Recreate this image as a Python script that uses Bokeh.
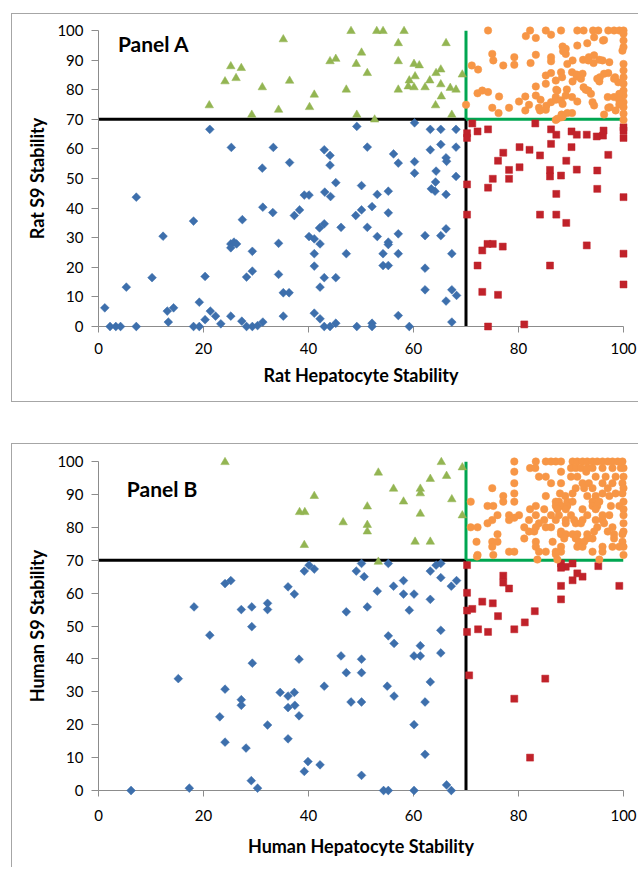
import math
from bokeh.plotting import figure
from bokeh.models import Range1d, FixedTicker, Label
from bokeh.layouts import column
from bokeh.embed import file_html
from bokeh.resources import INLINE

# ---------------- data ----------------
X_TICKS = [0, 20, 40, 60, 80, 100]
Y_TICKS = [0, 10, 20, 30, 40, 50, 60, 70, 80, 90, 100]
AXIS_MIN = 0
AXIS_MAX = 100
THRESHOLD = 70

A_TITLE = "Panel A"
A_XLABEL = "Rat Hepatocyte Stability"
A_YLABEL = "Rat S9 Stability"
B_TITLE = "Panel B"
B_XLABEL = "Human Hepatocyte Stability"
B_YLABEL = "Human S9 Stability"

# Panel A: low hepatocyte / low S9 (blue diamonds)
A_BLUE = [
    (21.2, 66.6), (25.3, 60.5), (31.2, 53.5), (33.3, 60.5), (36.4, 55.4), (7.2, 43.7),
    (39.2, 44.4), (40.1, 44.4), (43.0, 59.7), (49.2, 67.6), (60.2, 68.8), (63.2, 66.6),
    (65.2, 66.6), (68.1, 66.6), (51.2, 60.6), (44.1, 57.8), (44.1, 54.5), (56.2, 58.3),
    (57.1, 55.2), (63.2, 59.7), (65.2, 61.5), (68.1, 60.6), (66.2, 57.0), (66.3, 55.8),
    (60.2, 55.7), (60.2, 51.8), (64.3, 52.5), (68.1, 50.7), (45.2, 48.6), (50.1, 47.6),
    (64.2, 48.8), (63.4, 46.5), (64.1, 45.7), (43.1, 45.4), (44.2, 43.9), (53.1, 44.6),
    (55.2, 45.7), (66.2, 44.6), (49.0, 37.5), (50.1, 39.4), (52.1, 40.5),
    (55.2, 38.4), (42.1, 33.3), (43.0, 34.7), (46.2, 33.5), (51.2, 33.5), (40.1, 30.4),
    (41.1, 29.6), (42.2, 27.9), (53.1, 30.4), (55.2, 28.5), (55.2, 27.7), (57.1, 31.3),
    (62.2, 30.7), (65.2, 30.7), (66.2, 33.0), (41.1, 24.6), (47.2, 24.6), (54.2, 24.6),
    (57.1, 24.6), (67.3, 24.6), (41.1, 20.4), (54.2, 20.6), (55.2, 20.6), (62.2, 19.7),
    (43.0, 16.5), (45.2, 16.5), (42.2, 13.3), (62.2, 12.4), (67.3, 12.4), (68.2, 10.5),
    (66.2, 8.6), (41.1, 4.5), (42.2, 2.6), (57.1, 3.7), (43.0, 0.0), (44.1, 0.0),
    (45.2, 1.1), (49.2, 0.0), (52.1, 1.1), (52.1, 0.0), (59.2, 0.0), (67.3, 1.5),
    (18.1, 35.6), (12.3, 30.5), (27.4, 36.1), (31.3, 40.3), (33.2, 38.5), (37.3, 37.5),
    (38.3, 39.4), (25.2, 27.9), (25.8, 28.5), (26.3, 27.9), (25.2, 26.6), (29.3, 25.4),
    (34.3, 28.1), (29.3, 18.7), (28.2, 16.7), (34.3, 17.6), (35.2, 11.4), (36.3, 11.4),
    (35.2, 3.5), (20.3, 16.9), (10.2, 16.5), (5.3, 13.3), (1.2, 6.3), (13.1, 5.2),
    (14.3, 6.3), (13.3, 1.5), (19.2, 8.2), (21.3, 5.2), (22.3, 3.5), (20.3, 2.3),
    (23.3, 0.9), (25.2, 3.5), (27.3, 1.8), (28.2, 0.0), (29.3, 0.0), (30.3, 0.3),
    (31.3, 1.5), (18.1, 0.0), (19.2, 0.0), (2.2, 0.0), (3.3, 0.0), (4.2, 0.0), (7.2, 0.0),
]
# Panel A: high hepatocyte / low S9 (red squares)
A_RED = [
    (71.2, 68.6), (70.2, 65.3), (70.2, 63.7), (72.2, 65.9), (74.2, 66.6), (83.2, 68.6),
    (86.2, 66.6), (87.2, 64.8), (90.1, 65.9), (91.1, 64.8), (93.0, 64.8), (94.9, 64.2),
    (96.1, 64.5), (96.2, 66.2), (100.0, 67.3), (100.0, 66.2), (100.0, 63.7), (86.2, 61.7),
    (80.2, 60.6), (82.1, 59.7), (77.1, 58.7), (84.1, 57.8), (90.1, 60.6), (97.1, 58.0),
    (76.1, 56.0), (89.1, 56.0), (80.2, 53.8), (78.2, 52.9), (91.1, 53.0), (86.0, 52.9),
    (86.0, 50.7), (88.1, 51.0), (95.0, 52.7), (75.1, 49.9), (78.2, 49.9), (70.2, 48.0),
    (74.2, 46.9), (87.2, 44.8), (100.0, 43.7), (95.0, 46.5), (70.2, 37.8), (84.1, 37.8),
    (87.2, 37.8), (89.1, 35.0), (74.1, 27.9), (75.1, 27.9), (73.1, 25.7), (77.0, 27.0),
    (93.0, 27.4), (100.0, 24.6), (72.2, 20.6), (86.0, 20.6), (100.0, 14.2), (73.1, 11.7),
    (76.1, 10.7), (74.2, 0.0), (81.1, 0.7),
]
# Panel A: low hepatocyte / high S9 (green triangles)
A_GREEN = [
    (21.1, 74.7), (24.1, 82.8), (25.2, 87.9), (26.2, 83.9), (27.2, 87.3), (29.2, 71.5),
    (31.2, 80.8), (34.3, 73.2), (35.2, 97.0), (36.4, 83.0), (40.2, 74.1), (41.1, 78.3),
    (48.1, 99.8), (53.0, 99.8), (54.2, 99.8), (58.2, 99.8), (57.1, 95.7), (66.2, 95.7),
    (50.1, 92.5), (44.1, 89.6), (45.2, 90.4), (49.1, 88.7), (51.2, 85.6), (57.1, 89.6),
    (60.1, 88.7), (61.1, 88.2), (65.2, 86.8), (64.3, 85.6), (60.3, 84.5), (69.3, 85.1),
    (59.2, 83.1), (59.0, 81.1), (60.1, 80.8), (63.1, 83.1), (65.2, 81.8), (62.2, 80.8),
    (67.0, 80.6), (68.1, 80.0), (47.2, 80.0), (57.1, 80.0), (65.3, 77.7), (64.2, 74.7),
    (49.2, 71.5), (52.6, 69.9), (67.3, 71.5),
]
# Panel A: high hepatocyte / high S9 (orange circles)
A_ORANGE = [
    (74.2, 100.0), (82.2, 100.0), (85.2, 100.0), (88.1, 100.0), (91.2, 100.0), (92.4, 100.0),
    (94.2, 100.0), (95.2, 100.0), (97.1, 100.0), (98.2, 100.0), (99.2, 100.0), (100.0, 100.0),
    (86.2, 98.6), (81.4, 98.1), (83.3, 97.5), (94.4, 97.7), (96.1, 96.6), (93.1, 95.7),
    (91.2, 94.9), (88.4, 94.6), (89.0, 93.8), (88.5, 93.0), (89.0, 92.1), (99.8, 93.2),
    (75.0, 92.1), (75.2, 89.9), (79.2, 91.0), (79.2, 88.4), (83.3, 91.8), (86.2, 91.0),
    (86.2, 89.6), (90.3, 89.9), (92.3, 90.1), (93.4, 91.0), (94.4, 91.6), (94.3, 89.0),
    (96.0, 89.9), (97.3, 89.3), (89.3, 88.7), (82.3, 89.0), (71.1, 88.2), (72.3, 86.8),
    (77.1, 88.2), (100.0, 88.7), (100.0, 86.5), (100.0, 84.2), (100.0, 82.0), (100.0, 79.7),
    (100.0, 78.0), (100.0, 75.8), (100.0, 74.1), (100.0, 71.9), (100.0, 98.9), (100.0, 96.6),
    (100.0, 94.4), (100.0, 69.8), (85.2, 84.8), (86.2, 85.6), (87.1, 83.1), (88.1, 85.9),
    (88.3, 84.2), (90.2, 85.9), (91.1, 85.1), (92.2, 85.4), (90.3, 82.8), (95.5, 84.2),
    (95.4, 82.8), (97.1, 85.6), (98.4, 84.2), (99.0, 82.5), (83.3, 81.1), (85.2, 82.0),
    (87.2, 80.0), (87.1, 77.5), (89.2, 80.1), (89.0, 78.0), (92.4, 80.8), (92.8, 80.0),
    (93.8, 78.6), (99.2, 78.6), (72.2, 78.8), (73.1, 79.7), (74.2, 79.2), (76.3, 77.7),
    (80.1, 76.0), (81.3, 77.7), (83.3, 78.0), (84.2, 76.6), (86.2, 75.8), (87.1, 76.6),
    (88.1, 76.4), (88.4, 75.2), (90.2, 77.5), (91.2, 76.0), (94.1, 75.8), (97.0, 77.5),
    (97.4, 74.1), (70.0, 74.9), (75.0, 73.9), (76.2, 72.1), (78.2, 73.9), (81.3, 73.0),
    (82.0, 74.9), (83.9, 73.9), (85.2, 73.2), (88.2, 71.6), (89.3, 72.1), (90.2, 72.1),
    (94.4, 74.7), (96.3, 71.6), (87.1, 69.8), (88.2, 70.7), (87.4, 79.7), (87.4, 70.2),
    (88.4, 70.9), (97.1, 73.9), (93.3, 79.7), (95.0, 83.7), (96.3, 85.4), (98.2, 83.7),
    (98.2, 77.5), (99.2, 76.4), (99.2, 75.0), (98.5, 73.0), (93.3, 89.9), (95.4, 90.1),
    (96.3, 96.8), (91.9, 83.7), (91.1, 84.5), (85.3, 74.6), (84.1, 73.0),
]

# Panel B
B_BLUE = [
    (24.1, 62.9), (25.2, 63.8), (18.2, 55.8), (21.2, 47.2), (27.2, 55.0), (29.2, 55.8),
    (29.2, 49.8), (32.2, 56.9), (32.2, 55.0), (36.1, 61.9), (37.3, 59.7), (39.2, 66.7),
    (40.1, 68.5), (41.1, 67.3), (50.1, 69.0), (49.1, 66.7), (50.6, 65.0), (55.2, 69.0),
    (64.3, 68.5), (65.2, 69.0), (63.2, 66.7), (65.2, 64.7), (68.2, 63.8), (67.2, 62.1),
    (58.1, 63.8), (56.2, 62.1), (53.1, 60.6), (58.1, 59.7), (60.1, 59.7), (63.2, 58.1),
    (51.2, 55.8), (47.2, 54.3), (59.2, 54.8), (65.2, 48.7), (55.2, 47.0), (56.3, 44.7),
    (61.3, 44.0), (46.2, 40.9), (50.1, 39.9), (60.1, 40.9), (61.3, 40.9), (65.2, 41.8),
    (47.2, 35.8), (50.1, 35.8), (43.0, 31.7), (55.0, 31.7), (56.3, 28.7), (63.2, 33.0),
    (48.1, 26.9), (50.1, 26.9), (62.2, 26.9), (60.1, 20.0), (62.2, 11.0), (39.9, 8.8),
    (42.2, 7.8), (39.2, 5.8), (50.1, 4.6), (66.3, 1.7), (67.2, 0.0), (54.3, 0.0),
    (55.2, 0.0), (60.1, 0.0), (15.2, 34.0), (24.1, 30.8), (27.2, 27.6), (27.2, 25.9),
    (23.1, 22.4), (24.1, 14.7), (28.1, 12.9), (29.3, 38.7), (32.2, 19.9), (34.6, 29.8),
    (36.1, 28.7), (37.3, 29.8), (36.1, 25.2), (37.4, 25.9), (38.2, 39.9), (38.2, 22.7),
    (36.1, 15.7), (29.1, 3.0), (30.3, 0.7), (17.3, 0.7), (6.2, 0.0),
]
B_RED = [
    (70.2, 68.5), (88.1, 69.0), (89.0, 68.0), (90.3, 69.0), (88.1, 67.7), (95.2, 68.2),
    (91.2, 66.0), (92.2, 65.0), (90.3, 63.9), (77.1, 65.3), (77.1, 63.2), (78.2, 61.4),
    (88.1, 62.2), (99.2, 62.2), (88.1, 58.1), (70.2, 60.1), (73.1, 57.4), (75.1, 56.9),
    (70.2, 54.7), (71.2, 55.2), (76.1, 53.0), (83.1, 54.5), (81.2, 51.1), (79.2, 49.0),
    (72.3, 49.0), (74.2, 48.2), (70.2, 48.2), (70.6, 35.0), (85.1, 34.0), (79.2, 27.9),
    (82.2, 10.0),
]
B_GREEN = [
    (24.1, 99.8), (41.1, 89.5), (38.3, 84.6), (39.3, 84.6), (39.2, 74.6), (65.3, 99.8),
    (69.3, 98.2), (53.3, 96.6), (63.2, 94.7), (66.3, 95.6), (56.2, 91.7), (61.3, 91.7),
    (61.3, 90.3), (67.3, 88.5), (58.1, 87.8), (51.2, 86.3), (61.3, 84.1), (69.3, 83.6),
    (46.6, 81.5), (51.2, 80.7), (51.2, 78.7), (60.3, 75.6), (63.2, 75.6), (53.3, 69.5),
]
B_ORANGE = [
    (79.2, 100.0), (83.3, 100.0), (85.2, 100.0), (86.2, 100.0), (87.1, 100.0), (88.1, 100.0),
    (90.3, 100.0), (91.2, 100.0), (92.2, 100.0), (93.1, 100.0), (94.1, 100.0), (95.0, 100.0),
    (96.0, 100.0), (97.0, 100.0), (97.9, 100.0), (98.9, 100.0), (99.8, 100.0),
    (82.2, 98.0), (83.2, 98.0), (90.0, 98.0), (90.9, 98.0), (91.9, 98.0), (93.1, 98.0),
    (94.1, 98.0), (96.0, 98.0), (97.9, 98.0), (99.5, 98.0), (100.0, 98.0),
    (79.2, 96.9), (88.1, 96.9), (92.9, 96.9),
    (83.9, 95.4), (85.2, 95.4), (90.0, 95.4), (91.2, 95.4), (94.7, 95.4), (96.6, 95.4),
    (98.5, 95.4), (100.0, 95.4),
    (79.2, 93.4), (86.2, 93.4), (88.1, 93.4), (92.2, 93.4), (93.4, 93.4), (96.0, 93.4),
    (97.9, 93.4), (99.8, 93.4),
    (75.0, 91.9), (90.9, 91.9), (92.5, 91.9), (94.1, 91.9), (97.0, 91.9), (100.0, 91.9),
    (79.2, 90.3), (87.9, 90.3), (90.3, 90.3), (96.0, 90.3), (98.5, 90.3), (99.8, 90.3),
    (77.1, 89.5), (85.2, 89.5), (88.9, 89.5), (93.1, 89.5), (94.7, 89.5), (97.3, 89.5),
    (70.9, 87.8), (77.1, 87.8), (79.2, 87.8), (87.1, 87.8), (87.7, 87.8), (89.3, 87.8),
    (90.3, 87.8), (94.1, 87.8), (95.4, 87.8), (100.0, 87.8),
    (74.1, 86.5), (75.2, 86.5), (83.3, 86.5), (87.1, 86.5), (88.2, 86.5), (89.3, 86.5),
    (94.1, 86.5), (95.0, 86.5), (97.6, 86.5), (99.2, 86.5),
    (82.2, 85.5), (84.9, 85.5), (87.4, 85.5), (89.0, 85.5), (92.2, 85.5), (94.7, 85.5),
    (100.0, 85.5),
    (76.0, 83.7), (78.2, 83.7), (80.1, 83.7), (83.3, 83.7), (86.2, 83.7), (87.7, 83.7),
    (90.0, 83.7), (93.1, 83.7), (96.0, 83.7), (97.3, 83.7), (100.0, 83.7),
    (75.0, 82.2), (78.2, 82.2), (82.0, 82.2), (84.9, 82.2), (87.1, 82.2), (89.0, 82.2),
    (90.6, 82.2), (92.2, 82.2), (94.7, 82.2), (96.0, 82.2), (79.2, 82.9),
    (74.1, 81.2), (83.9, 81.2), (89.0, 81.2), (90.9, 81.2), (91.9, 81.2), (96.3, 81.2),
    (100.0, 81.2),
    (70.9, 80.0), (72.2, 80.0), (81.1, 80.0), (83.3, 80.0), (85.2, 80.0), (86.2, 80.0),
    (95.0, 80.0), (97.9, 80.0),
    (82.0, 78.7), (83.0, 78.7), (88.1, 78.7), (94.4, 78.7), (97.0, 78.7), (100.0, 78.7),
    (76.0, 77.9), (88.1, 77.9), (89.0, 77.9), (90.3, 77.9), (91.2, 77.9), (93.1, 77.9),
    (98.2, 77.9), (99.8, 77.9),
    (81.1, 76.6), (88.7, 76.6), (90.9, 76.6), (93.1, 76.6), (94.1, 76.6), (98.2, 76.6),
    (72.0, 75.6), (75.0, 75.6), (76.0, 75.6), (83.3, 75.6), (86.5, 75.6), (91.5, 75.6),
    (92.5, 75.6), (99.8, 75.6),
    (75.0, 74.1), (83.3, 74.1), (88.1, 74.1), (91.2, 74.1), (92.2, 74.1), (96.0, 74.1),
    (97.9, 74.1), (99.2, 74.1), (100.0, 74.1),
    (78.2, 72.6), (79.2, 72.6), (83.9, 72.6), (85.2, 72.6), (87.1, 72.6), (88.1, 72.6),
    (94.1, 72.6), (96.0, 72.6),
    (72.2, 71.6), (75.2, 71.6), (100.0, 71.6), (83.6, 70.2), (87.4, 70.2), (95.4, 70.2),
    (87.1, 71.8), (72.1, 71.1),
]

# ---------------- style ----------------
FONT = "Lato"
BLUE = "#3D6FAC"
RED = "#C0222A"
TRI_GREEN = "#93B552"
ORANGE = "#F79646"
LINE_GREEN = "#00A651"
AXIS_GRAY = "#8C8C8C"
FRAME_GRAY = "#A6A6A6"


def xs(pts):
    return [p[0] for p in pts]


def ys(pts):
    return [p[1] for p in pts]


def make_panel(title, xlabel, ylabel, blue, red, green, orange,
               height, margin, styles, mb_top, mb_bottom,
               title_x, title_y, tick_standoff, label_standoff):
    p = figure(width=627, height=height,
               x_range=Range1d(AXIS_MIN, AXIS_MAX), y_range=Range1d(AXIS_MIN, AXIS_MAX),
               output_backend="svg", toolbar_location=None,
               min_border_left=86, min_border_right=16,
               min_border_top=mb_top, min_border_bottom=mb_bottom,
               margin=margin, styles=styles)
    p.background_fill_color = "white"
    p.border_fill_color = "white"
    p.outline_line_color = None
    p.grid.visible = False

    p.xaxis.ticker = FixedTicker(ticks=X_TICKS)
    p.yaxis.ticker = FixedTicker(ticks=Y_TICKS)
    for ax in (p.xaxis, p.yaxis):
        ax.axis_line_color = AXIS_GRAY
        ax.axis_line_width = 1
        ax.major_tick_line_color = AXIS_GRAY
        ax.major_tick_in = 0
        ax.minor_tick_line_color = None
        ax.major_label_text_font = FONT
        ax.major_label_text_font_size = "15px"
        ax.major_label_text_color = "#000000"
        ax.axis_label_text_font = FONT
        ax.axis_label_text_font_size = "18px"
        ax.axis_label_text_font_style = "bold"
        ax.axis_label_text_color = "#000000"
    p.xaxis.major_tick_out = 6
    p.yaxis.major_tick_out = 7
    p.xaxis.major_label_standoff = tick_standoff
    p.yaxis.major_label_standoff = 8
    p.xaxis.axis_label_standoff = label_standoff
    p.yaxis.axis_label_standoff = 6
    p.xaxis.axis_label = xlabel
    p.yaxis.axis_label = ylabel

    # threshold lines
    p.segment(x0=[AXIS_MIN, THRESHOLD], y0=[THRESHOLD, AXIS_MIN],
              x1=[THRESHOLD, THRESHOLD], y1=[THRESHOLD, THRESHOLD],
              line_color="black", line_width=3)
    p.segment(x0=[THRESHOLD, THRESHOLD], y0=[THRESHOLD, THRESHOLD],
              x1=[AXIS_MAX, THRESHOLD], y1=[THRESHOLD, AXIS_MAX],
              line_color=LINE_GREEN, line_width=3)

    # series
    p.scatter(xs(blue), ys(blue), marker="square", angle=math.pi / 4, size=6.2,
              fill_color=BLUE, line_color=BLUE, line_width=0.5, level="overlay")
    p.scatter(xs(red), ys(red), marker="square", size=7,
              fill_color=RED, line_color=RED, line_width=0.5, level="overlay")
    p.scatter(xs(green), ys(green), marker="triangle", size=8.5,
              fill_color=TRI_GREEN, line_color=TRI_GREEN, line_width=0.5, level="overlay")
    p.scatter(xs(orange), ys(orange), marker="circle", size=7.5,
              fill_color=ORANGE, line_color=ORANGE, line_width=0.5, level="overlay")

    p.add_layout(Label(x=title_x, y=title_y, text=title, text_font=FONT,
                       text_font_style="bold", text_font_size="21px",
                       text_baseline="middle", text_color="#000000"))
    return p


BORDER = "1px solid " + FRAME_GRAY
pA = make_panel(A_TITLE, A_XLABEL, A_YLABEL, A_BLUE, A_RED, A_GREEN, A_ORANGE,
                height=389, margin=(13, 0, 0, 11),
                styles={"border-left": BORDER, "border-top": BORDER, "border-bottom": BORDER},
                mb_top=16, mb_bottom=77,
                title_x=3.7, title_y=95.6, tick_standoff=10, label_standoff=7)
pB = make_panel(B_TITLE, B_XLABEL, B_YLABEL, B_BLUE, B_RED, B_GREEN, B_ORANGE,
                height=424, margin=(41, 0, 0, 11),
                styles={"border-left": BORDER, "border-top": BORDER},
                mb_top=17, mb_bottom=78,
                title_x=5.4, title_y=91.9, tick_standoff=13, label_standoff=11)

layout = column(pA, pB, spacing=0)
open("out.html", "w").write(file_html(layout, INLINE))
